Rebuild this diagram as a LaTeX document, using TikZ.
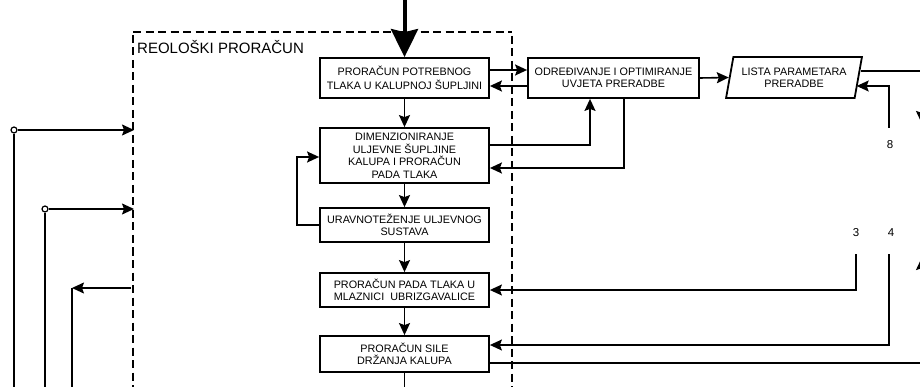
\documentclass[tikz,border=0pt]{standalone}
\usepackage{fontspec}
\setmainfont{Liberation Sans}
\usetikzlibrary{arrows.meta,shapes.geometric,calc}
\begin{document}
\begin{tikzpicture}[x=1pt,y=-1pt,
  box/.style={draw,line width=1.8pt,rectangle,align=center,inner sep=1pt,
    font=\fontsize{10.8}{12.5}\selectfont,minimum width=169pt},
  conn/.style={line width=1.6pt},
  thin/.style={line width=1.3pt},
  arr/.style={-{Stealth[length=12pt,width=11pt,inset=2pt]}},
  edgearr/.style={-{Stealth[length=14pt,width=13pt,inset=2pt]}},
  bigarr/.style={line width=4pt,-{Stealth[length=28pt,width=27pt,inset=3pt]}},
  num/.style={font=\fontsize{11.5}{12}\selectfont,inner sep=0pt},
  frame/.style={draw,line width=2pt,dash pattern=on 8pt off 4.5pt}]
\useasboundingbox (0,0) rectangle (920,387);
\clip (0,0) rectangle (920,387);
% dashed frame
\draw[frame] (133,32) -- (512,32);
\draw[frame] (133,35) -- (133,400);
\draw[frame] (512,36) -- (512,400);
\node[anchor=west,inner sep=0pt,font=\fontsize{15}{16}\selectfont] (reo) at (137,47) {REOLOŠKI PRORAČUN};
% boxes
\node[box,minimum height=40pt] (b1) at (404.5,78) {PRORAČUN POTREBNOG\\[1pt]TLAKA U KALUPNOJ ŠUPLJINI};
\node[box,minimum height=55pt] (b2) at (404.5,155.5) {DIMENZIONIRANJE\\ULJEVNE ŠUPLJINE\\KALUPA I PRORAČUN\\PADA TLAKA};
\node[box,minimum height=34pt] (b3) at (404.5,225) {URAVNOTEŽENJE ULJEVNOG\\SUSTAVA};
\node[box,minimum height=34pt] (b4) at (404.5,290) {PRORAČUN PADA TLAKA U\\MLAZNICI\ \ UBRIZGAVALICE};
\node[box,minimum height=36pt] (b5) at (404.5,354) {PRORAČUN SILE\\DRŽANJA KALUPA};
\node[box,minimum height=40pt,minimum width=171pt] (b6) at (613.5,78) {ODREĐIVANJE I OPTIMIRANJE\\UVJETA PRERADBE};
\node[draw,line width=1.8pt,trapezium,trapezium left angle=73.7,trapezium right angle=106.3,
  trapezium stretches=true,minimum width=136pt,minimum height=41pt,align=center,inner sep=1pt,
  font=\fontsize{10.8}{12.5}\selectfont] (lista) at (794,77.5) {LISTA PARAMETARA\\PRERADBE};
% top input
\coordinate (top) at (404.5,0);
\draw[bigarr] (top) -- (b1.north);
% main chain
\draw[conn,arr] (b1.south) -- (b2.north);
\draw[conn,arr] (b2.south) -- (b3.north);
\draw[conn,arr] (b3.south) -- (b4.north);
\draw[conn,arr] (b4.south) -- (b5.north);
\coordinate (bot) at (404.5,400);
\draw[conn] (b5.south) -- (bot);
% loop
\draw[conn,arr] (b3.west) -- ++(-22,0) |- ([yshift=-1.5pt]b2.west);
% b1 <-> b6
\draw[conn,arr] ([yshift=8pt]b1.east) -- ([yshift=8pt]b6.west);
\draw[conn,arr] ([yshift=-8pt]b6.west) -- ([yshift=-8pt]b1.east);
% b2 <-> b6
\draw[conn,arr] ([yshift=10.5pt]b2.east) -| ([xshift=-23.5pt]b6.south);
\draw[conn,arr] ([xshift=10.5pt]b6.south) |- ([yshift=-12.5pt]b2.east);
% b6 -> lista
\draw[conn,arr] (b6.east) -- (lista.west);
% lista outputs / inputs on the right
\coordinate (r1) at (922.5,71);
\coordinate (r1d) at (922.5,125);
\draw[conn,edgearr] ([xshift=2pt,yshift=6.5pt]lista.east) -- (r1) -- (r1d);
\coordinate (c8) at (889,128);
\node[num] (n8) at (890,145) {8};
\draw[thin,arr] (c8) |- ([xshift=-2.5pt,yshift=-8.5pt]lista.east);
% 3 and 4
\node[num] (n3) at (856,233) {3};
\node[num] (n4) at (891,233) {4};
\coordinate (c3) at (856,254);
\coordinate (c4) at (889,254);
\draw[thin,arr] (c3) |- (b4.east);
\draw[thin,arr] (c4) |- ([yshift=9pt]b5.east);
\coordinate (r2) at (922.5,363);
\coordinate (r2u) at (922.5,256);
\draw[conn,edgearr] ([yshift=-9pt]b5.east) -- (r2) -- (r2u);
% left side
\node[draw,circle,fill=white,inner sep=0pt,minimum size=6pt,line width=1.2pt] (o1) at (14,130) {};
\node[draw,circle,fill=white,inner sep=0pt,minimum size=6pt,line width=1.2pt] (o2) at (45,209) {};
\coordinate (f1) at (134,130);
\coordinate (f2) at (134,209);
\coordinate (f3) at (131,288);
\coordinate (k3) at (72,288);
\draw[conn] (o1.south) -- (14,400);
\draw[conn,arr] (o1.east) -- (f1);
\draw[conn] (o2.south) -- (45,400);
\draw[conn,arr] (o2.east) -- (f2);
\draw[conn,arr] (f3) -- (k3);
\draw[conn] (k3) -- (72,400);
\end{tikzpicture}
\end{document}
